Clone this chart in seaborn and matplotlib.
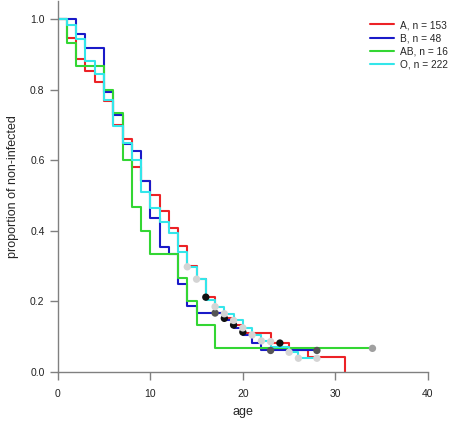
import numpy as np
import pandas as pd
import matplotlib
matplotlib.use("Agg")
import matplotlib.pyplot as plt
import seaborn as sns

# ---- data ----
groups = ["A, n = 153", "B, n = 48", "AB, n = 16", "O, n = 222"]
colors = ["#ec2226", "#1a1ac8", "#33d633", "#33e6ea"]

a_time = [0, 1, 2, 3, 4, 5, 6, 7, 8, 9, 10, 11, 12, 13, 14, 15, 16, 17, 18, 19, 20, 23, 25, 27, 31]
a_surv = [1.0, 0.947, 0.886, 0.853, 0.821, 0.769, 0.700, 0.659, 0.582, 0.541, 0.501, 0.456,
          0.409, 0.357, 0.300, 0.263, 0.212, 0.166, 0.152, 0.133, 0.110, 0.082, 0.062, 0.042, 0.0]
a_cens_t = [16, 18, 19, 20, 24]
a_cens_s = [0.212, 0.152, 0.133, 0.113, 0.082]

b_time = [0, 2, 3, 5, 6, 7, 8, 9, 10, 11, 12, 13, 14, 15, 18, 19, 20, 21, 22, 28]
b_surv = [1.0, 0.958, 0.917, 0.792, 0.729, 0.646, 0.625, 0.542, 0.4375, 0.354, 0.333, 0.250,
          0.1875, 0.167, 0.146, 0.125, 0.104, 0.083, 0.061, 0.061]
b_cens_t = [17, 23, 28]
b_cens_s = [0.167, 0.061, 0.061]

ab_time = [0, 1, 2, 5, 6, 7, 8, 9, 10, 13, 14, 15, 17, 34]
ab_surv = [1.0, 0.933, 0.867, 0.800, 0.733, 0.600, 0.467, 0.400, 0.333, 0.267, 0.200, 0.133, 0.067, 0.067]
ab_cens_t = [34]
ab_cens_s = [0.067]

o_time = [0, 1, 2, 3, 4, 5, 6, 7, 8, 9, 10, 11, 12, 13, 14, 15, 16, 17, 18, 19, 20, 21, 22, 23, 25, 26, 28]
o_surv = [1.0, 0.983, 0.942, 0.882, 0.843, 0.771, 0.697, 0.650, 0.600, 0.511, 0.465, 0.425, 0.393,
          0.341, 0.298, 0.263, 0.205, 0.185, 0.165, 0.146, 0.125, 0.105, 0.088, 0.072, 0.056, 0.039, 0.039]
o_cens_t = [14, 15, 17, 18, 19, 20, 21, 22, 23, 25, 26, 28]
o_cens_s = [0.298, 0.263, 0.185, 0.165, 0.146, 0.125, 0.105, 0.088, 0.086, 0.056, 0.039, 0.039]

cens_colors = ["#111111", "#555555", "#a0a0a0", "#d4d4d4"]

x_ticks = [0, 10, 20, 30, 40]
y_ticks = [0.0, 0.2, 0.4, 0.6, 0.8, 1.0]

# ---- build tables ----
curves = pd.concat([
    pd.DataFrame({"group": g, "age": t, "surv": s})
    for g, t, s in zip(groups, [a_time, b_time, ab_time, o_time], [a_surv, b_surv, ab_surv, o_surv])
], ignore_index=True)
cens = pd.concat([
    pd.DataFrame({"group": g, "age": t, "surv": s})
    for g, t, s in zip(groups, [a_cens_t, b_cens_t, ab_cens_t, o_cens_t],
                       [a_cens_s, b_cens_s, ab_cens_s, o_cens_s])
], ignore_index=True)

sns.set_style("white")
plt.rcParams["font.family"] = ["Liberation Sans", "DejaVu Sans"]

fig = plt.figure(figsize=(4.49, 4.21), dpi=100)
ax = fig.add_axes([57.7 / 449, 49 / 421, 370.3 / 449, 370.65 / 421])

sns.lineplot(data=curves, x="age", y="surv", hue="group", hue_order=groups,
             palette=dict(zip(groups, colors)), estimator=None, sort=False,
             drawstyle="steps-post", linewidth=1.5, ax=ax)
sns.scatterplot(data=cens, x="age", y="surv", hue="group", hue_order=groups,
                palette=dict(zip(groups, cens_colors)), s=28, linewidth=0,
                legend=False, ax=ax, zorder=5)

ax.set_xlim(0, 40)
ax.set_ylim(0, 1.05)
ax.set_xticks(x_ticks)
ax.set_xticklabels([str(v) for v in x_ticks])
ax.set_yticks(y_ticks)
ax.set_yticklabels([f"{v:.1f}" for v in y_ticks])
ax.set_xlabel("age", fontsize=9, labelpad=5)
ax.set_ylabel("proportion of non-infected", fontsize=9, labelpad=8)

for side in ["top", "right"]:
    ax.spines[side].set_visible(False)
for side in ["left", "bottom"]:
    ax.spines[side].set_color("#808080")
    ax.spines[side].set_linewidth(1.0)
ax.tick_params(axis="both", direction="out", length=5.5, width=1.0, color="#808080",
               labelsize=7.5, labelcolor="#222222", pad=4, left=True, bottom=True)
ax.tick_params(axis="x", pad=7)

handles, labels = ax.get_legend_handles_labels()
leg = ax.legend(handles, labels, loc="upper left", bbox_to_anchor=(370 / 449, 1 - 20 / 421),
                bbox_transform=fig.transFigure, frameon=False, fontsize=7.3,
                handlelength=2.4, handletextpad=0.6, labelspacing=0.32, borderpad=0,
                borderaxespad=0)
for line in leg.get_lines():
    line.set_linewidth(1.5)

fig.savefig("out.png", dpi=100)
